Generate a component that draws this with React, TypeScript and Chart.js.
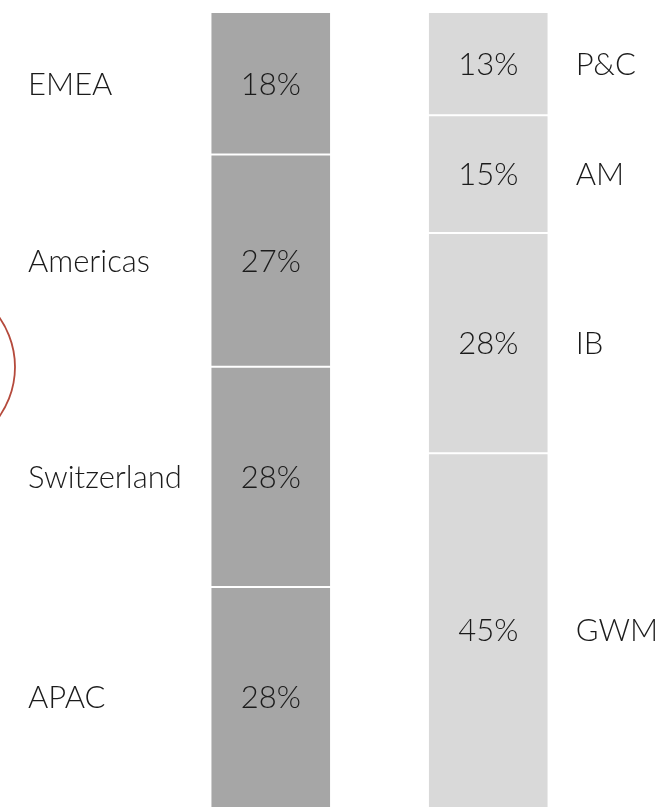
import React, { useEffect, useRef } from "react";
import { Chart, registerables } from "chart.js";

Chart.register(...registerables);

// Left bar (regions), listed top to bottom
const regionLabels = ["EMEA", "Americas", "Switzerland", "APAC"];
const regionValues = [18, 27, 28, 28];
// Right bar (divisions), listed top to bottom
const divisionLabels = ["P&C", "AM", "IB", "GWM"];
const divisionValues = [13, 15, 28, 45];
const barCategories = ["Regions", "Divisions"];
const valueSuffix = "%";

const FONT = "Lato";
const TEXT_COLOR = "#1b1b1b";

export default function App() {
  const ref = useRef<HTMLCanvasElement | null>(null);

  useEffect(() => {
    const canvas = ref.current;
    if (!canvas) return;

    const datasets: any[] = [];
    const addSide = (labels: string[], values: number[], color: string, side: string) => {
      const n = values.length;
      // stack from bottom: reverse order
      for (let i = n - 1; i >= 0; i--) {
        datasets.push({
          label: labels[i],
          data: side === "left" ? [values[i], null] : [null, values[i]],
          backgroundColor: color,
          borderColor: "#ffffff",
          borderWidth: { top: i === 0 ? 0 : 1, bottom: i === n - 1 ? 0 : 1, left: 0, right: 0 },
          borderSkipped: false,
          barPercentage: 1,
          categoryPercentage: 0.547,
          side,
        });
      }
    };
    addSide(regionLabels, regionValues, "#a6a6a6", "left");
    addSide(divisionLabels, divisionValues, "#d9d9d9", "right");

    const total = Math.max(
      regionValues.reduce((a, b) => a + b, 0),
      divisionValues.reduce((a, b) => a + b, 0)
    );

    const labelPlugin = {
      id: "segLabels",
      afterDatasetsDraw(chart: any) {
        const ctx = chart.ctx;
        ctx.save();
        ctx.fillStyle = TEXT_COLOR;
        ctx.font = `300 31px ${FONT}`;
        ctx.textBaseline = "middle";
        chart.data.datasets.forEach((ds: any, di: number) => {
          const meta = chart.getDatasetMeta(di);
          const idx = ds.side === "left" ? 0 : 1;
          const el = meta.data[idx];
          if (!el) return;
          const props = el.getProps(["x", "y", "base", "width"], true);
          const cy = (props.y + props.base) / 2 + 1;
          const val = ds.data[idx];
          ctx.textAlign = "center";
          ctx.fillText(`${val}${valueSuffix}`, props.x, cy);
          ctx.textAlign = "left";
          if (ds.side === "left") {
            ctx.fillText(ds.label, 28, cy);
          } else {
            ctx.fillText(ds.label, props.x + props.width / 2 + 28, cy);
          }
        });
        ctx.restore();
      },
    };

    const circlePlugin = {
      id: "circleMark",
      afterDraw(chart: any) {
        const ctx = chart.ctx;
        ctx.save();
        ctx.strokeStyle = "#b54a3c";
        ctx.lineWidth = 1.8;
        ctx.beginPath();
        ctx.arc(-71, 367, 86, 0, Math.PI * 2);
        ctx.stroke();
        ctx.restore();
      },
    };

    const chart = new Chart(canvas, {
      type: "bar",
      data: { labels: barCategories, datasets },
      options: {
        animation: false,
        responsive: false,
        maintainAspectRatio: false,
        layout: { padding: { top: 13, bottom: 0, left: 162, right: 65 } },
        plugins: {
          legend: { display: false },
          tooltip: { enabled: false },
        },
        scales: {
          x: { stacked: true, display: false },
          y: { stacked: true, display: false, min: 0, max: total },
        },
      },
      plugins: [labelPlugin, circlePlugin],
    });

    return () => chart.destroy();
  }, []);

  return (
    <div style={{ position: "fixed", left: 0, top: 0, width: 662, height: 807, background: "#ffffff" }}>
      <canvas ref={ref} width={662} height={807} style={{ width: 662, height: 807, display: "block" }} />
    </div>
  );
}
